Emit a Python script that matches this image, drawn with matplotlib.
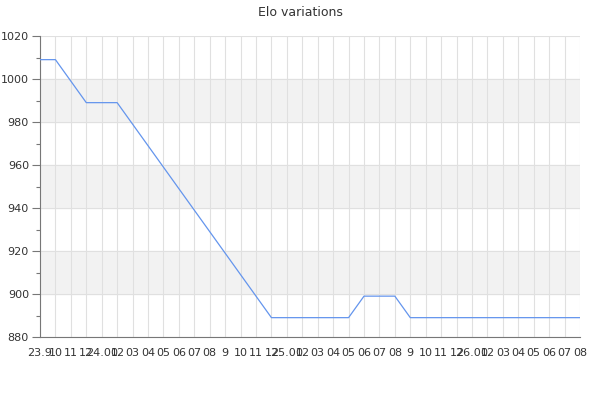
import matplotlib
matplotlib.use("Agg")
import matplotlib.pyplot as plt
from matplotlib.ticker import MultipleLocator

# monthly labels as shown on the axis
months = ["23.9", "10", "11", "12", "24.01", "02", "03", "04", "05", "06", "07", "08",
          "9", "10", "11", "12", "25.01", "02", "03", "04", "05", "06", "07", "08",
          "9", "10", "11", "12", "26.01", "02", "03", "04", "05", "06", "07", "08"]
elo = [1009, 1009, 999, 989, 989, 989, 979, 969, 959, 949, 939, 929,
       919, 909, 899, 889, 889, 889, 889, 889, 889, 899, 899, 899,
       889, 889, 889, 889, 889, 889, 889, 889, 889, 889, 889, 889]

fig = plt.figure(figsize=(6, 4), dpi=100)
ax = fig.add_axes([40 / 600, 63 / 400, 540 / 600, 301 / 400])

x = list(range(len(months)))

# alternating grey bands
for lo in (900, 940, 980):
    ax.axhspan(lo, lo + 20, color="#f2f2f2", zorder=0)

ax.plot(x, elo, color="#6495ed", linewidth=0.9, zorder=3)

ax.set_xlim(0, len(months) - 1)
ax.set_ylim(880, 1020)
ax.set_xticks(x)
ax.set_xticklabels(months, fontsize=8, color="#333333")
ax.yaxis.set_major_locator(MultipleLocator(20))
ax.yaxis.set_minor_locator(MultipleLocator(10))
ax.tick_params(axis="y", labelsize=8, colors="#333333", length=6, width=0.8, pad=2)
ax.tick_params(axis="y", which="minor", length=3, width=0.8, color="#777777")
ax.tick_params(axis="y", which="major", color="#777777")
ax.tick_params(axis="x", length=0, pad=8)

ax.grid(True, color="#e0e0e0", linewidth=0.8, zorder=1)
ax.set_axisbelow(True)
for s in ("top", "right"):
    ax.spines[s].set_visible(False)
for s in ("left", "bottom"):
    ax.spines[s].set_color("#777777")
    ax.spines[s].set_linewidth(0.8)

fig.suptitle("Elo variations", fontsize=9, color="#333333", y=0.985)

fig.savefig("out.png")
